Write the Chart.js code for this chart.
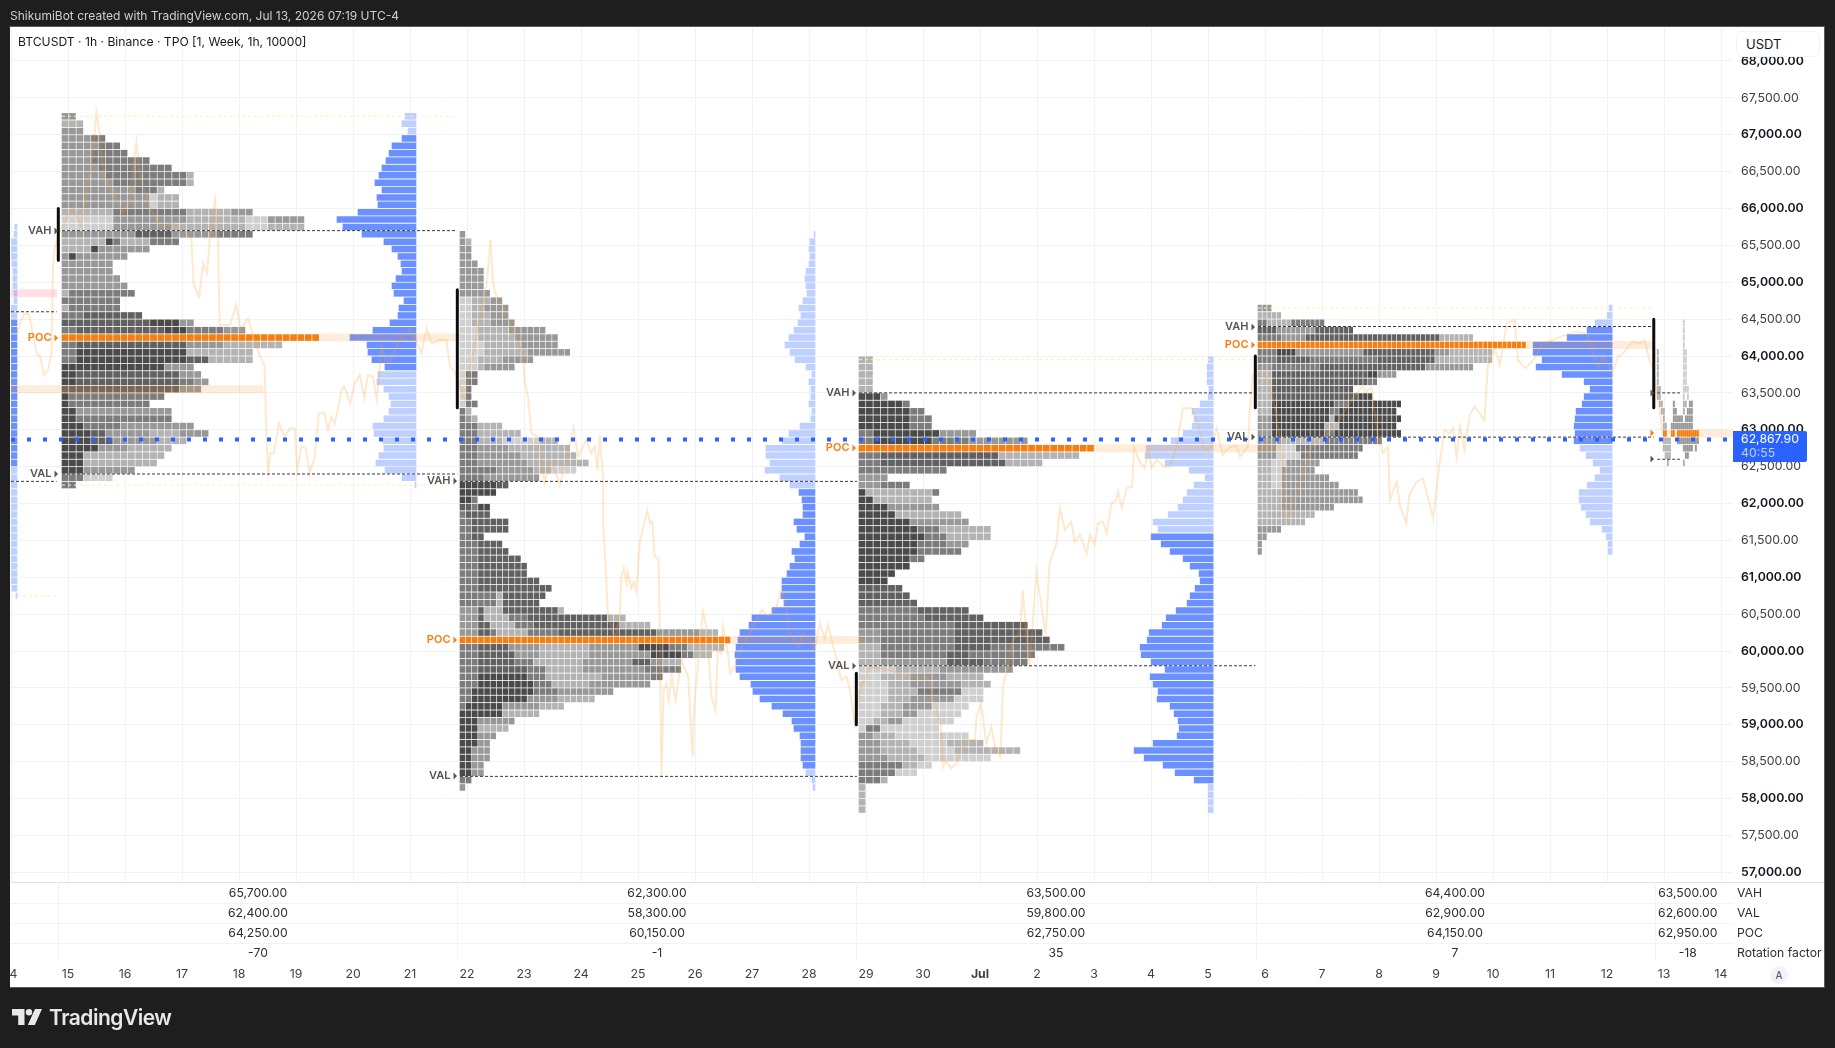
<!DOCTYPE html>
<html>
<head>
<meta charset="utf-8">
<title>BTCUSDT TPO</title>
<script src="https://cdn.jsdelivr.net/npm/chart.js@4"></script>
<style>
  html, body { margin: 0; padding: 0; background: #1e1e1e; width: 1835px; height: 1048px; overflow: hidden; font-family: Inter, sans-serif; }
  #panel { position: absolute; left: 10px; top: 27px; width: 1814px; height: 960px; background: #fff; box-shadow: 0 0 0 1px #5a5a5a; }
  #chart { position: absolute; left: 0; top: 0; }
  #leftEdge { position: absolute; left: 0; top: 27px; width: 10px; height: 961px; background: #1e1e1e; }
  #topline { position: absolute; left: 10px; top: 7px; font-size: 12px; line-height: 17px; color: #cfcfcf; }
  #title { position: absolute; left: 18px; top: 33px; font-size: 12.15px; line-height: 18px; color: #131722; }
  #unit { position: absolute; left: 1736px; top: 31px; width: 73px; height: 24px; padding-left: 9px; border: 1px solid #f0f3fa; border-radius: 6px; background: #fff; font-size: 13px; line-height: 25px; color: #131722; }
  #tag { position: absolute; left: 1733px; width: 74px; height: 31px; background: #2962ff; border-radius: 0 2px 2px 0; color: #fff; font-size: 12.3px; }
  #tag div { position: absolute; left: 8px; line-height: 14px; }
  #autoBtn { position: absolute; left: 1770px; top: 966px; width: 18px; height: 18px; border-radius: 50%; background: #f0f3fa; color: #434651; font-size: 10px; line-height: 18px; text-align: center; }
  #logo { position: absolute; left: 12px; top: 1009px; color: #e8e8e8; }
  #logoText { position: absolute; left: 49px; top: 1005px; font-size: 21px; line-height: 26px; font-weight: 600; color: #e8e8e8; letter-spacing: -0.5px; }
</style>
</head>
<body>
<div id="panel"></div>
<canvas id="chart" width="1835" height="1048"></canvas>
<div id="leftEdge"></div>
<div id="topline">ShikumiBot created with TradingView.com, Jul 13, 2026 07:19 UTC-4</div>
<div id="title">BTCUSDT · 1h · Binance · TPO [1, Week, 1h, 10000]</div>
<div id="unit">USDT</div>
<div id="tag"><div style="top:1px">62,867.90</div><div style="top:15px;color:#bcd0ff">40:55</div></div>
<div id="autoBtn">A</div>
<svg id="logo" width="30" height="16" viewBox="0 0 30 16" fill="#e8e8e8"><path d="M0 0h12.5v16H6.2V6.4H0z"/><circle cx="17" cy="3.2" r="3.2"/><path d="M23 0h7l-7.2 16h-7z"/></svg>
<div id="logoText">TradingView</div>

<script>
// x axis is counted in days, 0 = Jun 14, 30 = Jul 14
const dayLabels = ['14','15','16','17','18','19','20','21','22','23','24','25','26','27','28','29','30','Jul','2','3','4','5','6','7','8','9','10','11','12','13','14'];
const priceTicks = [57000,57500,58000,58500,59000,59500,60000,60500,61000,61500,62000,62500,63000,63500,64000,64500,65000,65500,66000,66500,67000,67500,68000];

const sessionDays = [0.833, 7.833, 14.833, 21.833, 28.833, 30];
const tpoStartDays = [0.895, 7.877, 14.877, 21.877, 28.88];
const tpoColDays = [0.1293, 0.1082, 0.1293, 0.0842, 0.0351];
const profileEndDays = [0.105, 7.105, 14.105, 21.09, 28.09];
const lineEndDays = [7.83, 14.84, 21.83, 28.82, 29.28];
const bandEndDays = [7.87, 14.94, 22.2, 28.81, 30.21];

const vahValues = [65700, 62300, 63500, 64400, 63500];
const valValues = [62400, 58300, 59800, 62900, 62600];
const pocValues = [64250, 60150, 62750, 64150, 62950];
const rotationValues = [-70, -1, 35, 7, -18];
const sessionTop = [67250, 65650, 63950, 64650, 64450];

const rangeBars = [[0.83, 66000, 65300], [7.83, 64900, 63300], [14.83, 59700, 59000], [21.83, 64000, 63300], [28.82, 64500, 63300]];
const extremeLines = [[0, 0.8, 60750], [0.895, 7.8, 67250], [0.895, 7.8, 62250], [14.877, 21.8, 63950], [21.877, 28.8, 64650]];
const earlierLines = [[0, 0.8, 64600], [0, 0.8, 62300]];
const earlierBands = [[0, 4.42, 63550], [0, 0.8, 64850]];
const lastPrice = 62867.9;

// TPO rows from the top row down, each row is runs of [cells, shade]; shade -1 is an empty slot
const tpo1 = [
  [[2,2]],[[3,1]],[[3,2]],[[4,2],[2,3]],[[5,2],[3,3]],[[4,2],[5,3]],[[4,2],[8,3]],[[5,2],[10,3]],[[6,2],[11,3],[1,1]],[[7,2],[10,3],[1,1]],
  [[10,2],[3,3],[1,1]],[[12,2],[1,0],[3,1]],[[12,2],[1,0],[3,1]],[[7,1],[10,3],[6,1],[3,2]],[[7,0],[10,2],[8,1],[3,0],[5,2]],[[7,0],[8,2],[10,1],[3,0],[5,1]],[[10,2],[5,4],[6,2],[5,3]],[[6,1],[1,5],[1,3],[4,1],[4,3]],[[4,1],[1,5],[7,2]],[[1,2],[1,5],[7,2]],
  [[7,2]],[[7,2]],[[8,2]],[[9,2]],[[1,1],[9,3]],[[8,3]],[[1,1],[7,3]],[[3,3],[8,4]],[[12,4],[4,5],[2,2]],[[2,3],[12,4],[3,5],[5,3],[3,2]],
  [[35,3]],[[2,3],[15,4],[5,2],[8,1]],[[2,3],[15,5],[9,1]],[[2,3],[15,5],[3,4],[6,1]],[[14,5],[4,2]],[[2,5],[14,4],[3,2]],[[2,5],[14,4],[2,3],[2,2]],[[16,4],[3,2]],[[1,5],[13,3]],[[1,5],[11,3]],
  [[2,5],[13,2]],[[2,5],[8,3],[5,3]],[[3,5],[5,3],[6,2],[4,2]],[[4,5],[2,4],[6,2],[4,1],[4,2]],[[4,5],[3,4],[6,2],[4,1]],[[5,5],[4,2],[6,1]],[[3,5],[5,1],[6,1]],[[3,5],[10,1]],[[3,5],[7,2]],[[3,3],[4,0]],
  [[2,3]]
];
const tpo2 = [
  [[1,2]],[[1,2],[1,1]],[[2,2]],[[2,2]],[[3,2]],[[4,2]],[[4,2]],[[4,2]],[[5,2]],[[2,0],[3,1],[2,2]],
  [[2,0],[2,1],[4,2]],[[2,0],[3,1],[3,2]],[[2,0],[3,1],[4,2]],[[3,0],[5,1],[6,2]],[[3,0],[6,1],[7,2]],[[4,0],[6,1],[6,2]],[[4,0],[7,1],[7,2]],[[3,0],[4,1],[5,2]],[[3,0],[1,1],[5,2]],[[1,0],[2,3]],
  [[1,0],[2,3]],[[1,0],[1,3]],[[1,0],[1,3]],[[1,0],[2,3]],[[1,3],[1,1]],[[1,3],[1,2],[1,1]],[[3,3],[4,1]],[[3,3],[7,1]],[[3,3],[4,1],[6,0],[3,1]],[[3,3],[5,2],[10,1]],
  [[3,3],[7,2],[9,1]],[[3,3],[8,2],[10,1]],[[6,3],[6,2],[3,1],[4,0]],[[4,3],[9,2]],[[6,5],[2,4]],[[6,5]],[[2,5],[1,3]],[[2,4],[1,3],[2,5]],[[1,3],[4,4]],
  [[2,3],[6,4]],[[2,3],[6,4]],[[2,3],[2,4]],[[3,3],[4,4]],[[3,3],[5,4]],[[3,3],[7,4]],[[3,3],[8,4]],[[3,3],[8,4]],[[3,3],[10,4]],[[3,3],[12,4]],
  [[6,3],[1,1],[7,4]],[[6,3],[1,1],[6,4]],[[3,2],[1,4],[3,1],[9,4],[1,1]],[[3,2],[1,4],[4,1],[3,3],[13,4],[3,1]],[[3,2],[2,4],[4,1],[3,3],[14,4],[5,1]],[[3,2],[2,4],[1,3],[5,1],[5,3],[16,4],[7,2],[3,1]],[[44,3]],
  [[3,3],[5,4],[5,2],[8,1],[8,2],[5,5],[3,3],[6,1]],[[3,3],[6,4],[4,2],[8,1],[10,2],[5,5],[2,3],[3,1]],[[3,3],[6,4],[3,3],[8,1],[8,2],[3,4],[2,2],[3,1]],[[3,3],[8,4],[3,3],[6,1],[10,2],[6,3]],[[3,3],[8,5],[3,3],[9,1],[8,2],[2,3]],[[3,3],[9,5],[3,3],[6,1],[10,2]],[[2,3],[10,5],[4,3],[9,2]],[[2,3],[9,5],[5,2],[6,1]],[[1,3],[6,5],[6,2],[4,1]],[[7,5],[6,1]],
  [[3,5],[6,2]],[[3,5],[5,1]],[[3,5],[3,2]],[[3,5],[2,2]],[[2,5],[3,2]],[[2,5],[3,2]],[[2,5],[2,2]],[[2,5],[2,2]],[[2,3]],[[1,2]]
];
const tpo3 = [
  [[2,1]],[[2,1]],[[2,1]],[[2,1]],[[2,1]],[[3,5],[1,2]],[[6,5],[1,3]],[[7,5],[2,3]],[[7,5],[3,3]],[[7,5],[3,3]],
  [[2,3],[9,5],[5,2]],[[2,3],[8,5],[5,3],[8,2]],[[32,3]],
  [[3,3],[16,4],[11,1]],[[3,3],[17,4],[5,1]],[[12,3]],[[4,2]],[[3,2],[4,3]],[[1,5],[9,1],[1,3]],[[2,5],[8,1]],
  [[4,5],[7,2]],[[5,5],[9,1]],[[7,5],[8,2]],[[8,5],[3,3],[7,1]],[[9,5],[3,3],[6,1]],[[8,5],[4,3],[3,2]],[[8,5],[6,3]],[[7,5],[2,3]],[[7,5]],[[5,5]],
  [[4,5]],[[6,4]],[[7,4]],[[8,4]],[[8,3],[7,4]],[[9,3],[8,4]],[[13,3],[10,4]],[[3,2],[10,3],[12,4]],[[3,2],[10,3],[13,4]],[[3,1],[10,3],[5,4],[10,3]],
  [[3,1],[9,3],[3,4],[9,3]],[[3,1],[9,2],[5,4],[6,3]],[[5,0],[6,1],[10,2]],[[3,0],[4,1],[5,2],[5,1]],[[4,0],[3,1],[7,2],[4,1]],[[4,0],[4,1],[6,3],[3,0]],[[4,0],[3,1],[6,2],[4,0]],[[3,0],[3,1],[4,2],[5,0]],[[3,0],[3,1],[2,2],[6,0]],[[2,0],[2,1],[2,2],[7,0]],
  [[1,0],[2,3],[8,0]],[[2,2],[3,1],[10,0]],[[3,2],[4,1],[5,0],[5,1]],[[3,2],[5,1],[5,0],[9,1]],[[4,2],[5,1],[9,0]],[[6,3],[2,1],[2,0]],[[5,3],[3,0]],[[3,3],[1,1]],[[1,1]],[[1,1]],
  [[1,1]],[[1,1]]
];
const tpo4 = [
  [[3,2]],[[5,1]],[[2,3],[5,1],[7,3]],[[4,4],[8,2],[8,4]],[[5,3],[5,2],[28,4],[7,1]],[[56,3]],[[4,3],[4,5],[14,2],[15,4],[3,2],[9,1]],[[4,3],[7,4],[14,3],[12,4],[12,1]],[[3,2],[10,3],[22,4],[10,2]],[[3,1],[20,4],[2,5],[4,2]],
  [[3,1],[20,4],[2,3]],[[3,1],[17,4]],[[3,1],[18,4],[3,5]],[[3,1],[13,5],[3,3],[11,5]],[[3,1],[12,5],[2,3],[12,5]],[[3,2],[12,5],[1,1],[14,5]],[[3,2],[11,5],[3,1],[12,5]],[[3,2],[11,5],[2,3],[14,5]],[[5,2],[9,1],[12,3]],[[4,2],[4,0],[14,3]],
  [[4,2],[5,0],[12,3]],[[3,1],[3,0],[7,2]],[[3,1],[2,0],[7,2]],[[3,1],[2,0],[10,2]],[[3,1],[2,0],[12,2]],[[5,1],[16,2]],[[5,1],[17,2]],[[5,1],[11,2]],[[12,1]],[[10,1]],
  [[5,2]],[[2,2]],[[1,2]],[[1,2]]
];
const tpo5 = [
  [[13,-1],[1,0]],[[13,-1],[1,0]],[[13,-1],[1,0]],[[13,-1],[1,0]],[[1,1],[12,-1],[2,0]],[[1,1],[12,-1],[2,0]],[[1,1],[12,-1],[2,0]],[[1,1],[12,-1],[2,0]],[[1,1],[12,-1],[2,0]],[[2,1],[11,-1],[3,0]],
  [[2,1],[11,-1],[1,0],[1,-1],[1,0]],[[1,-1],[2,1],[5,-1],[1,2],[4,-1],[2,1],[1,-1],[2,2]],[[2,-1],[2,1],[4,-1],[2,2],[3,-1],[1,1],[1,-1],[3,2]],[[3,-1],[1,1],[4,-1],[5,2],[1,-1],[4,2]],[[3,-1],[2,1],[2,-1],[11,2]],
  [[3,-1],[2,3],[2,-1],[2,3],[1,-1],[11,3]],[[3,-1],[4,1],[3,-1],[11,2]],[[3,-1],[4,1],[6,-1],[5,2],[1,-1],[1,2]],[[4,-1],[3,1],[7,-1],[2,2]],[[5,-1],[1,1],[7,-1],[1,1]]
];
const tpoSessions = [tpo1, tpo2, tpo3, tpo4, tpo5];

// volume profile rows from the top row down
const volumeEarlier = [2,3,7,7,7,5,4,4,4,3,3,7,7, 9,9,9,9,9,9,9,9,9,9,9,9,9,9,9,9,9,9,9,9, 8,8,8,8,8,8,8,8,8,8,8,8,8,8,8,8,5,1];
const volume1 = [11,14,8,14,24,27,30,34,37,41,34,39,38,58,79,73,54,32,24,18,15,14,20,24,22,12,17,18,26,43,66,49,48,44,31,38,39,32,27,25,27,32,43,42,33,32,37,40,31,14,1];
const volume2 = [1,5,6,5,6,9,10,9,8,12,16,14,17,21,26,30,25,20,9,3,6,4,4,6,3,4,15,26,33,49,49,45,50,35,25,16,13,12,12,21,18,10,15,23,20,25,28,33,33,34,31,43,63,66,75,77,79,80,79,79,75,64,62,55,43,32,23,21,15,14,14,14,12,9,3,2];
const volume3 = [5,6,6,6,4,5,13,21,19,21,30,42,67,68,48,24,8,19,26,30,35,45,60,55,62,52,43,30,23,14,13,18,23,26,37,47,51,64,66,73,72,62,48,63,60,55,56,43,39,35,34,36,60,79,69,50,38,19,5,5,5,5];
const volume4 = [3,5,17,25,45,79,79,70,76,50,28,22,28,30,36,37,38,37,38,32,26,19,12,17,25,33,33,31,26,22,10,6,4,4];
const volumeTop = [65750, 67250, 65650, 63950, 64650];
const volumeSets = [volumeEarlier, volume1, volume2, volume3, volume4];
const volumeCoreRows = [[13, 32], [3, 34], [35, 72], [24, 57], [3, 18]];

// hourly closes, [day, price]
const priceTrace = [
  [.105,64285],[.165,64465],[.24,64579],[.316,64556],[.386,64307],[.445,64036],[.515,63990],[.574,63742],[.65,63810],[.71,64036],
  [.737,65211],[.767,65460],[.842,65664],[1.088,66024],[1.235,65753],[1.333,66296],[1.428,66658],[1.498,67299],[1.556,67020],[1.614,66477],
  [1.732,66296],[1.85,66115],[1.965,65935],[2.083,66115],[2.2,66906],[2.258,66477],[2.433,66024],[2.61,65753],[2.842,65800],[3.077,65664],
  [3.165,65573],[3.205,64963],[3.3,64804],[3.37,65257],[3.44,65121],[3.486,65573],[3.58,66115],[3.632,65573],[3.66,64420],[3.837,64420],
  [3.954,64691],[4.025,64352],[4.158,64511],[4.305,64126],[4.45,63855],[4.48,62952],[4.51,62386],[4.55,62680],[4.61,62680],[4.7,63087],
  [4.8,62906],[4.89,63019],[4.98,63019],[5.02,62454],[5.09,62770],[5.17,62748],[5.24,62409],[5.33,62635],[5.4,63223],[5.5,63223],
  [5.56,62996],[5.62,63177],[5.68,63087],[5.8,63539],[5.85,63584],[5.95,63358],[6.03,63630],[6.12,63742],[6.2,63426],[6.26,63742],
  [6.35,63719],[6.42,63403],[6.5,64126],[6.59,63900],[6.7,63990],[6.79,64172],[7,64375],[7.08,64262],[7.2,64036],[7.29,64375],
  [7.38,64172],[7.52,64217],[7.64,64217],[7.7,63855],[7.8,63765],[7.96,63403],[8.13,64150],[8.34,64940],[8.415,65573],[8.456,64985],
  [8.516,64804],[8.66,64624],[8.84,64262],[8.98,64036],[9.01,63674],[9.07,63448],[9.13,62952],[9.25,62906],[9.36,62273],[9.45,62590],
  [9.54,62454],[9.63,62250],[9.74,62590],[9.87,63019],[9.95,62635],[10.09,62861],[10.18,62680],[10.24,62770],[10.29,62454],[10.33,62928],
  [10.39,62318],[10.39,61685],[10.42,61325],[10.47,60510],[10.6,60147],[10.68,60510],[10.71,61007],[10.75,61120],[10.8,60917],[10.82,61075],
  [10.88,60850],[10.93,60940],[10.97,60805],[11.03,61460],[11.16,61910],[11.21,61731],[11.25,61754],[11.29,61279],[11.36,61257],[11.38,60375],
  [11.41,58295],[11.45,59470],[11.5,59560],[11.54,59335],[11.59,59674],[11.66,59335],[11.72,59674],[11.76,59878],[11.88,59652],[11.96,58566],
  [11.99,59290],[12.14,60533],[12.2,60330],[12.29,59380],[12.36,59199],[12.4,60013],[12.46,59968],[12.49,60330],[12.55,60104],[12.62,59696],
  [12.7,59787],[12.78,60013],[12.96,60240],[13.05,60375],[13.17,60556],[13.28,60465],[13.43,60600],[13.52,60850],[13.6,60600],[13.66,60240],
  [13.82,60058],[13.89,60240],[14.01,60150],[14.1,60013],[14.19,60375],[14.28,60172],[14.33,60352],[14.42,60081],[14.57,59606],[14.66,59652],
  [14.72,59470],[14.8,59019],[14.89,59470],[15.07,59787],[15.42,59742],[15.71,59652],[16.06,59652],[16.2,59335],[16.32,58973],[16.35,58430],
  [16.41,58520],[16.49,58407],[16.59,58475],[16.7,58792],[16.91,58792],[16.94,59109],[17.02,59290],[17.11,58747],[17.2,58973],[17.26,58701],
  [17.36,58566],[17.4,59515],[17.46,59696],[17.58,60150],[17.7,60240],[17.75,60828],[17.81,60240],[17.87,59787],[17.99,61075],[18.15,60217],
  [18.22,61189],[18.34,61460],[18.4,61935],[18.49,61640],[18.6,61754],[18.66,61483],[18.75,61573],[18.81,61460],[18.87,61325],[18.93,61573],
  [19.01,61437],[19.07,61731],[19.16,61754],[19.22,61596],[19.31,62002],[19.39,62047],[19.42,62160],[19.49,61935],[19.57,62205],[19.67,62227],
  [19.7,62770],[19.8,62567],[19.89,62477],[19.95,62725],[20.01,62477],[20.09,62590],[20.24,62500],[20.33,62500],[20.45,62770],[20.56,63290],
  [20.71,63290],[20.82,63087],[20.94,62725],[21.06,62770],[21.15,63019],[21.26,62657],[21.35,62748],[21.5,62793],[21.56,62635],[21.7,62770],
  [21.73,63225],[21.79,63742],[22.02,63719],[22.17,63313],[22.29,62725],[22.34,61776],[22.43,61821],[22.55,62183],[22.84,62816],[23.19,62996],
  [23.37,63223],[23.6,63494],[23.72,63584],[23.77,63516],[23.87,63584],[23.96,62996],[24.07,62680],[24.16,62770],[24.19,62047],[24.31,62296],
  [24.36,61980],[24.48,61731],[24.53,62115],[24.66,62296],[24.77,62341],[24.95,61800],[25.07,62590],[25.15,62996],[25.24,62952],[25.3,63019],
  [25.36,62635],[25.42,63042],[25.5,62725],[25.59,63200],[25.68,63313],[25.85,63132],[25.91,63878],[26.03,64104],[26.12,63878],[26.24,64443],
  [26.38,64488],[26.44,63946],[26.57,63833],[26.73,63968],[26.85,64149],[27.17,64262],[27.46,64330],[27.64,64308],[27.84,63855],[27.93,63990],
  [28.1,63787],[28.19,63990],[28.28,64036],[28.45,64194],[28.57,64172],[28.66,64217],[28.75,63923],[28.81,63833],[28.87,63539],[28.94,63177],
  [28.96,62996],[29.27,62928],[29.58,62870]
];

const xMax = 30.21, yMax = 68461, yMin = 56868;
const shades = ['#cfcfcf', '#b3b3b3', '#989898', '#7c7c7c', '#616161', '#4a4a4a'];
const orange = '#f67d10';
const dayPx = 57; // one day on the axis, used to turn pixels
const cellGapPx = 1.3;

function hLine(a, b, y, color, dash, order) {
  return { type: 'line', data: [{ x: a, y: y }, { x: b, y: y }], borderColor: color, borderWidth: 1, borderDash: dash, pointRadius: 0, order: order };
}
function barSet(data, color, thickness, order) {
  return { type: 'bar', indexAxis: 'y', grouped: false, data: data, backgroundColor: color, barThickness: thickness, borderWidth: 0, order: order };
}

// split the TPO rows into one bar list per shade
const shadeBars = shades.map(() => []);
const pocBars = [];
tpoSessions.forEach((rows, s) => {
  rows.forEach((runs, r) => {
    const price = sessionTop[s] - r * 100;
    let col = 0;
    // the last session is so narrow that its slots need a thinner gap
    const gap = s === 4 ? 0.7 : cellGapPx;
    runs.forEach(([n, shade]) => {
      for (let i = 0; i < n; i++, col++) {
        if (shade < 0) continue;
        const left = tpoStartDays[s] + col * tpoColDays[s];
        const cell = { x: [left, left + tpoColDays[s] - gap / dayPx], y: price };
        if (price === pocValues[s]) pocBars.push(cell);
        else shadeBars[shade].push(cell);
      }
    });
  });
});

const coreBars = [], outerBars = [];
volumeSets.forEach((vals, s) => {
  vals.forEach((v, r) => {
    const bar = { x: [profileEndDays[s] - v / dayPx, profileEndDays[s]], y: volumeTop[s] - r * 100 };
    if (r >= volumeCoreRows[s][0] && r <= volumeCoreRows[s][1]) coreBars.push(bar);
    else outerBars.push(bar);
  });
});

const pocBandBars = pocValues.map((p, s) => {
  const cols = tpoSessions[s][Math.round((sessionTop[s] - p) / 100)].reduce((t, run) => t + run[0], 0);
  return { x: [tpoStartDays[s] + cols * tpoColDays[s], bandEndDays[s]], y: p };
});

const datasets = [];
shadeBars.forEach((bars, i) => datasets.push(barSet(bars, shades[i], 5.9, 6)));
datasets.push(barSet(pocBars, orange, 5.9, 6));
datasets.push(barSet(coreBars, '#6b90ff', 5.9, 6));
datasets.push(barSet(outerBars, '#bed0ff', 5.9, 6));
datasets.push(barSet(pocBandBars, 'rgba(255,140,30,0.16)', 7.4, 5));
datasets.push(barSet([{ x: [earlierBands[0][0], earlierBands[0][1]], y: earlierBands[0][2] }], 'rgba(255,140,30,0.16)', 7.4, 5));
datasets.push(barSet([{ x: [earlierBands[1][0], earlierBands[1][1]], y: earlierBands[1][2] }], 'rgba(255,82,120,0.18)', 7.4, 5));

datasets.push({ type: 'line', data: priceTrace.map(p => ({ x: p[0], y: p[1] })), borderColor: 'rgba(255,165,50,0.24)', borderWidth: 2, pointRadius: 0, tension: 0, order: 4 });

vahValues.forEach((v, s) => datasets.push(hLine(tpoStartDays[s], lineEndDays[s], v, '#3a3a3a', [3, 2], 3)));
valValues.forEach((v, s) => datasets.push(hLine(tpoStartDays[s], lineEndDays[s], v, '#3a3a3a', [3, 2], 3)));
earlierLines.forEach(l => datasets.push(hLine(l[0], l[1], l[2], '#3a3a3a', [3, 2], 3)));
extremeLines.forEach(l => datasets.push(hLine(l[0], l[1], l[2], '#fff1a8', [3, 3], 3)));

rangeBars.forEach(b => datasets.push({ type: 'line', data: [{ x: b[0], y: b[1] }, { x: b[0], y: b[2] }], borderColor: '#0c0c0c', borderWidth: 3, borderCapStyle: 'round', pointRadius: 0, order: 2 }));

datasets.push({ type: 'line', data: [{ x: 0, y: lastPrice }, { x: xMax, y: lastPrice }], borderColor: '#2962ff', borderWidth: 4, borderDash: [4, 12], pointRadius: 0, order: 1 });

// labels and the table under the pane, placed through the chart's scales
const overlayPlugin = {
  id: 'overlay',
  afterDraw(chart) {
    const { ctx, scales: { x, y }, chartArea } = chart;
    ctx.save();
    const drawTag = (s, value, text, color) => {
      const px = x.getPixelForValue(sessionDays[s]);
      const py = Math.round(y.getPixelForValue(value));
      ctx.fillStyle = color;
      ctx.beginPath();
      ctx.moveTo(px - 4, py - 3.5);
      ctx.lineTo(px - 0.5, py);
      ctx.lineTo(px - 4, py + 3.5);
      ctx.fill();
      if (text) {
        ctx.font = '600 11px Inter';
        ctx.textAlign = 'right';
        ctx.textBaseline = 'middle';
        ctx.fillText(text, px - 7, py);
      }
    };
    for (let s = 0; s < 5; s++) {
      const named = s < 4;
      drawTag(s, vahValues[s], named ? 'VAH' : '', '#555');
      drawTag(s, valValues[s], named ? 'VAL' : '', '#555');
      drawTag(s, pocValues[s], named ? 'POC' : '', orange);
    }

    const rowText = [
      vahValues.map(v => v.toLocaleString('en-US', { minimumFractionDigits: 2 })),
      valValues.map(v => v.toLocaleString('en-US', { minimumFractionDigits: 2 })),
      pocValues.map(v => v.toLocaleString('en-US', { minimumFractionDigits: 2 })),
      rotationValues.map(String)
    ];
    const rowNames = ['VAH', 'VAL', 'POC', 'Rotation factor'];
    const top = chartArea.bottom;
    const rowH = 20;
    ctx.strokeStyle = '#e0e3eb';
    ctx.lineWidth = 1;
    ctx.beginPath();
    ctx.moveTo(11, top + 0.5);
    ctx.lineTo(1824, top + 0.5);
    ctx.stroke();
    ctx.strokeStyle = '#f0f3fa';
    ctx.beginPath();
    for (let r = 1; r < 4; r++) {
      ctx.moveTo(11, top + 1.5 + r * rowH);
      ctx.lineTo(1733, top + 1.5 + r * rowH);
    }
    for (let s = 0; s < 5; s++) {
      const px = Math.round(x.getPixelForValue(sessionDays[s])) + 0.5;
      ctx.moveTo(px, top);
      ctx.lineTo(px, top + 78);
    }
    ctx.stroke();
    ctx.font = '12.2px Inter';
    ctx.textBaseline = 'middle';
    ctx.fillStyle = '#2e2e33';
    rowText.forEach((cells, r) => {
      const py = top + 11.5 + r * rowH;
      ctx.textAlign = 'center';
      cells.forEach((t, s) => {
        const mid = (sessionDays[s] + sessionDays[s + 1]) / 2;
        ctx.fillText(t, x.getPixelForValue(mid), py);
      });
      ctx.textAlign = 'left';
      ctx.fillText(rowNames[r], 1737, py);
    });
    ctx.restore();
  }
};

const isThousand = ctx => !!ctx.tick && ctx.tick.value % 1000 === 0;

const chart = new Chart(document.getElementById('chart'), {
  type: 'line',
  data: { datasets: datasets },
  plugins: [overlayPlugin],
  options: {
    responsive: false,
    animation: false,
    events: [],
    layout: { padding: { left: 11, top: 27, right: 10, bottom: 61 } },
    plugins: { legend: { display: false }, tooltip: { enabled: false } },
    scales: {
      x: {
        type: 'linear', min: 0, max: xMax, offset: false, beginAtZero: false,
        afterFit(scale) { scale.height = 105; scale.paddingLeft = 0; scale.paddingRight = 0; },
        grid: { color: '#f1f2f5', offset: false, drawTicks: false },
        border: { display: false },
        ticks: {
          stepSize: 1, autoSkip: false, maxRotation: 0, includeBounds: false, padding: 85, color: '#3c3f4a',
          font: ctx => ({ family: 'Inter', size: 12.3, weight: ctx.tick && dayLabels[ctx.tick.value] === 'Jul' ? '700' : '400' }),
          callback: v => dayLabels[v]
        }
      },
      y: {
        type: 'linear', position: 'right', min: yMin, max: yMax, offset: false, beginAtZero: false,
        afterBuildTicks(scale) { scale.ticks = priceTicks.map(v => ({ value: v })); },
        afterFit(scale) { scale.width = 92; scale.paddingTop = 0; scale.paddingBottom = 0; },
        grid: { color: '#f1f2f5', offset: false, drawTicks: false },
        border: { display: false },
        ticks: {
          padding: 8, autoSkip: false, color: ctx => isThousand(ctx) ? '#131722' : '#3c3f4a',
          font: ctx => ({ family: 'Inter', size: 12.3, weight: isThousand(ctx) ? '600' : '400' }),
          callback: v => v.toLocaleString('en-US', { minimumFractionDigits: 2 })
        }
      }
    }
  }
});

document.getElementById('tag').style.top = Math.round(chart.scales.y.getPixelForValue(lastPrice) - 8) + 'px';
</script>
</body>
</html>
